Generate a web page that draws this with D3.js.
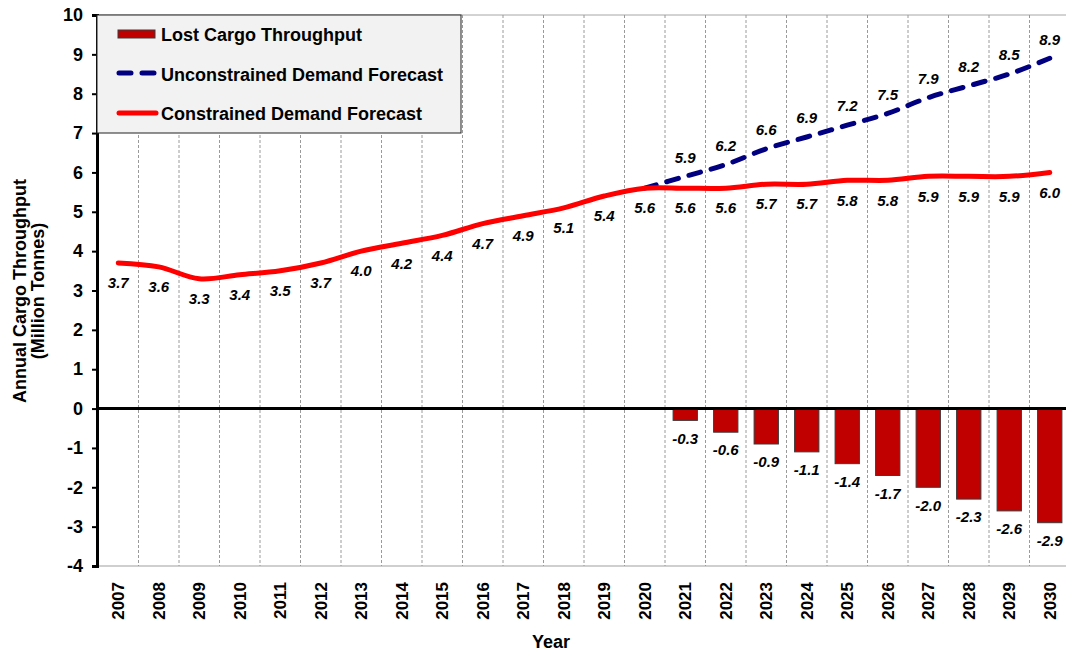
<!DOCTYPE html>
<html>
<head>
<meta charset="utf-8">
<script src="https://cdn.jsdelivr.net/npm/d3@7"></script>
<style>
  html, body { margin: 0; padding: 0; background: #fff; }
  svg { display: block; font-family: Arial, "Liberation Sans", sans-serif; }
</style>
</head>
<body>
<svg id="chart" width="1066" height="651"></svg>
<script>
// Years on the category axis
const years = ["2007","2008","2009","2010","2011","2012","2013","2014","2015","2016","2017","2018",
               "2019","2020","2021","2022","2023","2024","2025","2026","2027","2028","2029","2030"];

// Constrained demand forecast (million tonnes), one value per year
const constrained = [3.7,3.6,3.3,3.4,3.5,3.7,4.0,4.2,4.4,4.7,4.9,5.1,5.4,5.6,5.6,5.6,5.7,5.7,5.8,5.8,5.9,5.9,5.9,6.0];

// Unconstrained demand forecast, starting from 2020
const unconstrainedYears = ["2020","2021","2022","2023","2024","2025","2026","2027","2028","2029","2030"];
const unconstrained = [5.6,5.9,6.2,6.6,6.9,7.2,7.5,7.9,8.2,8.5,8.9];

// Lost cargo throughput from 2021
const lostYears = ["2021","2022","2023","2024","2025","2026","2027","2028","2029","2030"];
const lost = [-0.3,-0.6,-0.9,-1.1,-1.4,-1.7,-2.0,-2.3,-2.6,-2.9];

// Y axis tick values
const yTicks = [-4,-3,-2,-1,0,1,2,3,4,5,6,7,8,9,10];

const svg = d3.select("#chart");
const plotLeft = 98, plotRight = 1070, plotTop = 15, plotBottom = 566;

const x = d3.scaleBand().domain(years).range([plotLeft, plotRight]).padding(0);
const y = d3.scaleLinear().domain([-4, 10]).range([plotBottom, plotTop]);
const cx = d => x(d) + x.bandwidth() / 2;

svg.append("rect").attr("width", 1066).attr("height", 651).attr("fill", "#fff");

// Plot frame: thin grey top and bottom edges
svg.append("line").attr("x1", plotLeft).attr("x2", plotRight).attr("y1", plotTop).attr("y2", plotTop)
  .attr("stroke", "#a6a6a6").attr("stroke-width", 1);
svg.append("line").attr("x1", plotLeft).attr("x2", plotRight).attr("y1", plotBottom).attr("y2", plotBottom)
  .attr("stroke", "#bfbfbf").attr("stroke-width", 1.5);

// Vertical dashed gridlines between years
svg.append("g").selectAll("line").data(years.slice(1)).join("line")
  .attr("x1", d => x(d)).attr("x2", d => x(d))
  .attr("y1", plotTop).attr("y2", plotBottom)
  .attr("stroke", "#9a9a9a").attr("stroke-width", 1).attr("stroke-dasharray", "3,2");

// Lost cargo bars
svg.append("g").selectAll("rect").data(lostYears.map((d, i) => ({ year: d, v: lost[i] }))).join("rect")
  .attr("x", d => cx(d.year) - x.bandwidth() * 0.3)
  .attr("width", x.bandwidth() * 0.6)
  .attr("y", y(0))
  .attr("height", d => y(d.v) - y(0))
  .attr("fill", "#C00000").attr("stroke", "#3a3a3a").attr("stroke-width", 1);

// Zero line
svg.append("line").attr("x1", plotLeft).attr("x2", plotRight).attr("y1", y(0)).attr("y2", y(0))
  .attr("stroke", "#000").attr("stroke-width", 3);

// Smoothed series lines
const line = d3.line().x(d => cx(d.year)).y(d => y(d.v)).curve(d3.curveCatmullRom.alpha(0.5));

// Unconstrained forecast (dashed navy)
svg.append("path")
  .datum(unconstrainedYears.map((d, i) => ({ year: d, v: unconstrained[i] })))
  .attr("d", line).attr("fill", "none")
  .attr("stroke", "#000080").attr("stroke-width", 5)
  .attr("stroke-dasharray", "12,11").attr("stroke-linecap", "round");

// Constrained forecast (solid red)
svg.append("path")
  .datum(years.map((d, i) => ({ year: d, v: constrained[i] })))
  .attr("d", line).attr("fill", "none")
  .attr("stroke", "#FF0000").attr("stroke-width", 5).attr("stroke-linecap", "round")
  .attr("stroke-linejoin", "round");

// Data labels
const labelStyle = sel => sel.attr("text-anchor", "middle").attr("dy", "0.35em")
  .attr("font-size", 15).attr("font-weight", "bold").attr("font-style", "italic").attr("fill", "#000");

svg.append("g").selectAll("text").data(years.map((d, i) => ({ year: d, v: constrained[i] }))).join("text")
  .attr("x", d => cx(d.year)).attr("y", d => y(d.v) + 20)
  .text(d => d.v.toFixed(1)).call(labelStyle);

svg.append("g").selectAll("text")
  .data(unconstrainedYears.map((d, i) => ({ year: d, v: unconstrained[i] })).slice(1)).join("text")
  .attr("x", d => cx(d.year)).attr("y", d => y(d.v) - 19)
  .text(d => d.v.toFixed(1)).call(labelStyle);

svg.append("g").selectAll("text").data(lostYears.map((d, i) => ({ year: d, v: lost[i] }))).join("text")
  .attr("x", d => cx(d.year)).attr("y", d => y(d.v) + 18)
  .text(d => d.v.toFixed(1)).call(labelStyle);

// Y axis
const yAxis = svg.append("g").attr("transform", `translate(${plotLeft - 1},0)`)
  .call(d3.axisLeft(y).tickValues(yTicks).tickSize(5).tickPadding(9).tickFormat(d => String(d)));
yAxis.select(".domain").attr("stroke", "#000").attr("stroke-width", 3);
yAxis.selectAll(".tick line").attr("stroke", "#000").attr("stroke-width", 2);
yAxis.selectAll(".tick text").attr("font-size", 18).attr("font-weight", "bold")
  .attr("font-family", "Arial, 'Liberation Sans', sans-serif").attr("fill", "#000");

// X axis labels (rotated)
svg.append("g").selectAll("text").data(years).join("text")
  .attr("transform", d => `translate(${cx(d)},582) rotate(-90)`)
  .attr("text-anchor", "end").attr("dy", "0.35em")
  .attr("font-size", 17).attr("font-weight", "bold").attr("fill", "#000")
  .text(d => d);

// Axis titles
svg.append("text").attr("x", 551).attr("y", 642).attr("dy", "0.35em")
  .attr("text-anchor", "middle").attr("font-size", 18).attr("font-weight", "bold").text("Year");

const yTitle = svg.append("text").attr("transform", "translate(20,291) rotate(-90)")
  .attr("text-anchor", "middle").attr("font-size", 18).attr("font-weight", "bold");
yTitle.append("tspan").attr("x", 0).attr("dy", "0.35em").text("Annual Cargo Throughput");
yTitle.append("tspan").attr("x", 0).attr("dy", "1.0em").text("(Million Tonnes)");

// Legend
const legend = svg.append("g");
legend.append("rect").attr("x", 97).attr("y", 15).attr("width", 364).attr("height", 118)
  .attr("fill", "#F2F2F2").attr("stroke", "#222").attr("stroke-width", 1);
legend.append("rect").attr("x", 118).attr("y", 30).attr("width", 37).attr("height", 8)
  .attr("fill", "#C00000").attr("stroke", "#3a3a3a").attr("stroke-width", 1);
legend.append("line").attr("x1", 119).attr("x2", 154).attr("y1", 73).attr("y2", 73)
  .attr("stroke", "#000080").attr("stroke-width", 5).attr("stroke-dasharray", "12,11")
  .attr("stroke-linecap", "round");
legend.append("line").attr("x1", 119).attr("x2", 156).attr("y1", 113).attr("y2", 113)
  .attr("stroke", "#FF0000").attr("stroke-width", 5).attr("stroke-linecap", "round");
const legendItems = ["Lost Cargo Throughput", "Unconstrained Demand Forecast", "Constrained Demand Forecast"];
const legendY = [35, 75, 114];
legend.selectAll("text.item").data(legendItems).join("text").attr("class", "item")
  .attr("x", 161).attr("y", (d, i) => legendY[i]).attr("dy", "0.35em")
  .attr("font-size", 18).attr("font-weight", "bold").attr("fill", "#000").text(d => d);
</script>
</body>
</html>
